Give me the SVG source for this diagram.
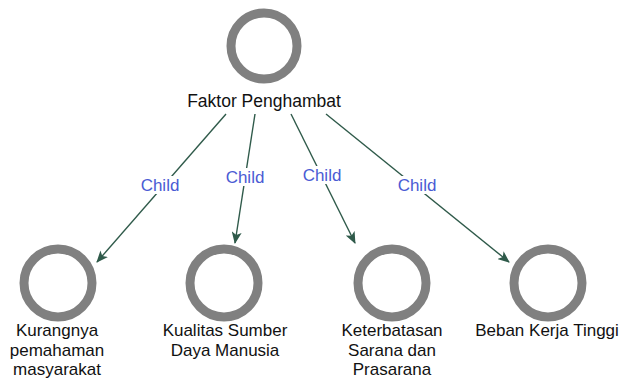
<svg xmlns="http://www.w3.org/2000/svg" width="625" height="379" viewBox="0 0 625 379">
  <style>
    .ring { fill: #ffffff; stroke: #808080; stroke-width: 9; }
    .name { font-family: "Liberation Sans", Arial, sans-serif; font-size: 17px; fill: #111111; text-anchor: middle; }
    .edge { stroke: #2f5a4a; stroke-width: 1.4; fill: none; marker-end: url(#head); }
    .tag-bg { fill: #ffffff; }
    .tag { font-family: "Liberation Sans", Arial, sans-serif; font-size: 17px; fill: #4a5bd4; text-anchor: middle; }
  </style>
  <defs>
    <marker id="head" viewBox="0 0 12 10" refX="11" refY="5" markerWidth="12" markerHeight="10" markerUnits="userSpaceOnUse" orient="auto">
      <path d="M0,0 L12,5 L0,10 L3,5 Z" fill="#2f5a4a"/>
    </marker>
  </defs>
  <rect width="625" height="379" fill="#ffffff"/>

  <g id="connectors">
    <line class="edge" x1="226" y1="114" x2="97" y2="262"/>
    <line class="edge" x1="255" y1="114" x2="235" y2="243"/>
    <line class="edge" x1="291" y1="114" x2="355" y2="243"/>
    <line class="edge" x1="326" y1="114" x2="509" y2="262"/>
    <g id="edge-labels">
      <rect class="tag-bg" x="139" y="176" width="42" height="18"/>
      <text class="tag" x="160" y="191">Child</text>
      <rect class="tag-bg" x="224" y="168" width="42" height="18"/>
      <text class="tag" x="245" y="183">Child</text>
      <rect class="tag-bg" x="301" y="166" width="42" height="18"/>
      <text class="tag" x="322" y="181">Child</text>
      <rect class="tag-bg" x="396" y="176" width="42" height="18"/>
      <text class="tag" x="417" y="191">Child</text>
    </g>
  </g>

  <g id="faktor-penghambat">
    <circle class="ring" cx="264" cy="46" r="33"/>
    <text class="name" x="264" y="107" style="font-size:17.5px">Faktor Penghambat</text>
  </g>
  <g id="kurangnya-pemahaman">
    <circle class="ring" cx="58" cy="283" r="34"/>
    <text class="name" x="57" y="336">Kurangnya</text>
    <text class="name" x="57" y="355.7">pemahaman</text>
    <text class="name" x="57" y="375.4">masyarakat</text>
  </g>
  <g id="kualitas-sdm">
    <circle class="ring" cx="224" cy="283" r="34"/>
    <text class="name" x="225" y="336">Kualitas Sumber</text>
    <text class="name" x="225" y="355.7">Daya Manusia</text>
  </g>
  <g id="keterbatasan-sarana">
    <circle class="ring" cx="392" cy="283" r="34"/>
    <text class="name" x="392" y="336">Keterbatasan</text>
    <text class="name" x="392" y="355.7">Sarana dan</text>
    <text class="name" x="392" y="375.4">Prasarana</text>
  </g>
  <g id="beban-kerja">
    <circle class="ring" cx="548" cy="283" r="34"/>
    <text class="name" x="547" y="336">Beban Kerja Tinggi</text>
  </g>
</svg>
